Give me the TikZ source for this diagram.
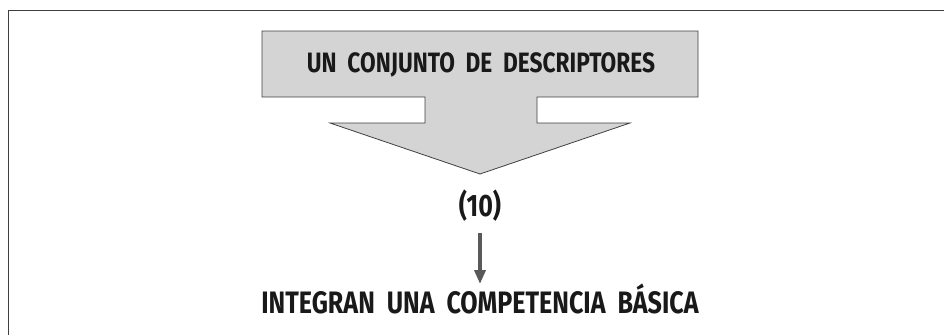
\documentclass[tikz,border=0pt]{standalone}
\usepackage{fontspec}
\setmainfont{Fira Sans}
\newfontfamily\condfont[FakeStretch=0.81]{Fira Sans}
\usetikzlibrary{arrows.meta}
\definecolor{boxgray}{gray}{0.83}
\definecolor{linegray}{gray}{0.25}
\definecolor{arrgray}{gray}{0.35}
\definecolor{txt}{gray}{0.1}
\tikzset{
  lbl/.style={text=txt, inner sep=0pt, anchor=base},
}
\begin{document}
\begin{tikzpicture}[x=1pt,y=-1pt]
\useasboundingbox (0,0) rectangle (944,335);
% partial frame
\draw[linegray, line width=1.2pt] (8.5,335) -- (8.5,10.5) -- (944,10.5);
% big block arrow
\draw[fill=boxgray, draw=linegray, line width=0.8pt]
  (262,31) -- (698,31) -- (698,97) -- (537,97) -- (537,123) -- (630,123)
  -- (480,174) -- (330,123) -- (425,123) -- (425,97) -- (262,97) -- cycle;
\node[lbl, font=\condfont\bfseries\fontsize{28}{30}\selectfont] (top) at (481,72) {UN\ \ CONJUNTO\ \ DE\ \ DESCRIPTORES};
\node[lbl, font=\condfont\bfseries\fontsize{31}{33}\selectfont] (ten) at (480,216) {(10)};
\node[lbl, font=\condfont\bfseries\fontsize{31}{34}\selectfont] (bot) at (480,313) {INTEGRAN\ \ UNA\ \ COMPETENCIA\ \ BÁSICA};
\coordinate (s) at (480,233);
\coordinate (e) at (480,284);
\draw[arrgray, line width=3.5pt, -{Triangle[length=14pt,width=11pt]}] (s) -- (e);
\end{tikzpicture}
\end{document}
